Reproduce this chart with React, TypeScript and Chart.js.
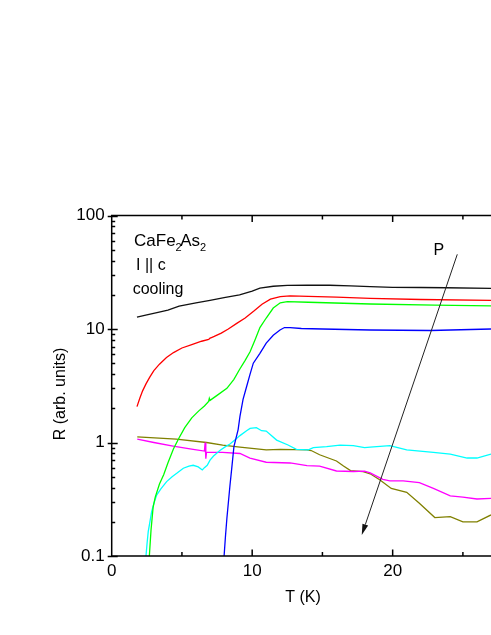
import React, { useEffect, useRef } from 'react';
import { Chart, registerables } from 'chart.js';

Chart.register(...registerables);

// ---- data (T in K, R in arb. units) ----
const blackT = [1.8, 2.5, 3.3, 4.0, 4.8, 6.0, 7.0, 8.0, 9.1, 10.0, 10.55, 11.5, 12.5, 13.9, 15.5, 17.0, 18.4, 20.0, 22.0, 23.8, 27.0];
const blackR = [12.7, 13.3, 14.0, 14.7, 15.9, 17.0, 17.9, 18.9, 20.0, 21.6, 22.9, 23.8, 24.2, 24.4, 24.3, 24.0, 23.6, 23.3, 23.2, 23.1, 22.8];

const redT = [1.8, 2.0, 2.2, 2.45, 2.7, 3.0, 3.4, 3.9, 4.4, 5.0, 5.7, 6.4, 6.9, 7.0, 7.1, 7.3, 7.8, 8.3, 8.9, 9.5, 10.1, 10.7, 11.3, 12.0, 12.7, 14.0, 16.0, 18.4, 22.0, 27.0];
const redR = [2.07, 2.45, 2.85, 3.3, 3.75, 4.3, 4.9, 5.6, 6.2, 6.8, 7.3, 7.8, 8.1, 8.3, 8.4, 8.6, 9.2, 10.0, 11.2, 12.5, 14.3, 16.5, 18.3, 19.3, 19.6, 19.4, 19.1, 18.6, 18.2, 17.9];

const greenT = [2.68, 2.8, 2.95, 3.1, 3.4, 3.7, 4.0, 4.4, 4.8, 5.2, 5.7, 6.2, 6.6, 6.9, 6.95, 7.0, 7.5, 8.2, 8.7, 9.1, 9.5, 9.85, 10.2, 10.55, 11.0, 11.5, 12.0, 12.5, 14.0, 18.4, 23.0, 27.0];
const greenR = [0.1, 0.17, 0.27, 0.33, 0.43, 0.52, 0.66, 0.88, 1.1, 1.35, 1.65, 1.9, 2.1, 2.3, 2.45, 2.35, 2.6, 3.0, 3.6, 4.4, 5.3, 6.3, 8.0, 10.3, 12.5, 15.3, 17.0, 17.4, 17.2, 16.6, 16.2, 16.0];

const blueT = [8.0, 8.1, 8.2, 8.42, 8.55, 8.7, 9.0, 9.13, 9.35, 9.6, 9.85, 10.08, 10.55, 11.0, 11.5, 11.98, 12.3, 12.7, 13.5, 15.0, 18.4, 22.7, 27.0];
const blueR = [0.1, 0.15, 0.215, 0.42, 0.6, 0.92, 1.3, 1.7, 2.4, 3.1, 4.0, 5.0, 6.1, 7.5, 8.8, 9.8, 10.3, 10.3, 10.1, 10.0, 9.8, 9.7, 10.0];

const cyanT = [2.44, 2.52, 2.6, 2.72, 2.84, 3.0, 3.2, 3.5, 3.91, 4.3, 4.63, 5.1, 5.5, 5.8, 6.16, 6.45, 6.6, 6.8, 7.0, 7.25, 7.7, 8.1, 8.42, 8.8, 9.13, 9.6, 9.85, 10.3, 10.67, 11.0, 11.74, 12.55, 13.15, 14.0, 14.35, 15.3, 16.25, 17.2, 18.0, 18.4, 19.8, 21.0, 22.9, 24.1, 25.3, 26.0, 27.0];
const cyanR = [0.1, 0.13, 0.164, 0.2, 0.245, 0.29, 0.344, 0.39, 0.452, 0.5, 0.535, 0.593, 0.62, 0.63, 0.61, 0.573, 0.6, 0.63, 0.7, 0.76, 0.85, 0.92, 0.97, 1.06, 1.15, 1.27, 1.33, 1.35, 1.27, 1.26, 1.05, 0.95, 0.87, 0.86, 0.9, 0.92, 0.95, 0.94, 0.9, 0.91, 0.94, 0.86, 0.82, 0.79, 0.73, 0.73, 0.79];

const magentaT = [1.82, 3.0, 4.37, 5.8, 6.6, 6.65, 6.7, 6.75, 7.0, 7.9, 9.13, 9.84, 11.0, 12.7, 13.9, 14.8, 16.0, 17.2, 18.0, 18.4, 19.3, 19.8, 20.75, 21.9, 22.9, 24.1, 25.0, 26.0, 27.0];
const magentaR = [1.07, 1.0, 0.93, 0.87, 0.84, 1.0, 0.72, 0.82, 0.82, 0.82, 0.8, 0.73, 0.67, 0.66, 0.625, 0.62, 0.561, 0.555, 0.56, 0.54, 0.474, 0.46, 0.46, 0.443, 0.394, 0.338, 0.33, 0.318, 0.322];

const oliveT = [1.82, 4.6, 6.75, 7.9, 9.13, 11.0, 12.0, 13.9, 14.2, 14.8, 16.0, 16.5, 17.0, 17.9, 18.4, 19.1, 19.9, 21.0, 21.9, 23.0, 24.1, 25.0, 26.0, 27.0];
const oliveR = [1.12, 1.07, 1.0, 0.95, 0.91, 0.86, 0.87, 0.86, 0.85, 0.78, 0.687, 0.62, 0.565, 0.555, 0.53, 0.468, 0.394, 0.364, 0.291, 0.218, 0.222, 0.2, 0.2, 0.23];

const xTickValues = [0, 10, 20];
const yTickValues = [0.1, 1, 10, 100];

// annotation anchors (data coords)
const arrowFrom = { x: 24.6, y: 45.5 };
const arrowTo = { x: 17.8, y: 0.153 };
const pLabel = { x: 22.9, y: 44.9, text: 'P' };
const sampleLabel = { x: 1.59, y: 53.9 };
const currentLabel = { x: 1.73, y: 33.1, text: 'I || c' };
const modeLabel = { x: 1.49, y: 20.3, text: 'cooling' };

const FONT = '"Liberation Sans", Arial, Helvetica, sans-serif';

const series = [
  { label: 'P1', t: blackT, r: blackR, color: '#111111' },
  { label: 'P2', t: redT, r: redR, color: '#ff0000' },
  { label: 'P3', t: greenT, r: greenR, color: '#00ff00' },
  { label: 'P4', t: blueT, r: blueR, color: '#0000ff' },
  { label: 'P5', t: cyanT, r: cyanR, color: '#00ffff' },
  { label: 'P6', t: magentaT, r: magentaR, color: '#ff00ff' },
  { label: 'P7', t: oliveT, r: oliveR, color: '#808000' },
];

const framePlugin = {
  id: 'framePlugin',
  afterDraw(chart: any) {
    const { ctx, chartArea: a, scales } = chart;
    const xs = scales.x;
    const ys = scales.y;
    ctx.save();
    ctx.strokeStyle = '#000';
    ctx.lineWidth = 1.5;
    ctx.beginPath();
    ctx.moveTo(a.right + 2, a.top);
    ctx.lineTo(a.left, a.top);
    ctx.lineTo(a.left, a.bottom);
    ctx.lineTo(a.right + 2, a.bottom);
    ctx.stroke();

    const seg = (x1: number, y1: number, x2: number, y2: number) => {
      ctx.beginPath();
      ctx.moveTo(x1, y1);
      ctx.lineTo(x2, y2);
      ctx.stroke();
    };
    // x ticks (inward, bottom and top)
    for (let v = 5; v <= xs.max; v += 5) {
      const px = xs.getPixelForValue(v);
      const len = v % 10 === 0 ? 6.5 : 4;
      seg(px, a.bottom, px, a.bottom - len);
      seg(px, a.top, px, a.top + len);
    }
    // y ticks
    for (let e = -1; e <= 2; e++) {
      for (let m = 1; m <= 9; m++) {
        const v = m * Math.pow(10, e);
        if (v < 0.1 - 1e-9 || v > 100 + 1e-9) continue;
        const py = Math.round(ys.getPixelForValue(v)) + 0.5;
        if (m === 1) seg(a.left - 4, py, a.left + 6, py);
        else seg(a.left, py, a.left + 3.5, py);
      }
    }

    // arrow
    const x1 = xs.getPixelForValue(arrowFrom.x);
    const y1 = ys.getPixelForValue(arrowFrom.y);
    const x2 = xs.getPixelForValue(arrowTo.x);
    const y2 = ys.getPixelForValue(arrowTo.y);
    ctx.strokeStyle = '#222';
    ctx.lineWidth = 1;
    const ang = Math.atan2(y2 - y1, x2 - x1);
    const headLen = 11;
    const headW = 3;
    const bx = x2 - headLen * Math.cos(ang);
    const by = y2 - headLen * Math.sin(ang);
    seg(x1, y1, bx, by);
    ctx.fillStyle = '#111';
    ctx.beginPath();
    ctx.moveTo(x2, y2);
    ctx.lineTo(bx + headW * Math.sin(ang), by - headW * Math.cos(ang));
    ctx.lineTo(bx - headW * Math.sin(ang), by + headW * Math.cos(ang));
    ctx.closePath();
    ctx.fill();

    // texts
    ctx.fillStyle = '#000';
    ctx.textBaseline = 'alphabetic';
    ctx.textAlign = 'left';
    ctx.font = `16px ${FONT}`;
    ctx.fillText(pLabel.text, xs.getPixelForValue(pLabel.x), ys.getPixelForValue(pLabel.y));
    ctx.fillText(currentLabel.text, xs.getPixelForValue(currentLabel.x), ys.getPixelForValue(currentLabel.y));
    ctx.fillText(modeLabel.text, xs.getPixelForValue(modeLabel.x), ys.getPixelForValue(modeLabel.y));

    // CaFe2As2 with subscripts
    let sx = xs.getPixelForValue(sampleLabel.x);
    const sb = ys.getPixelForValue(sampleLabel.y);
    const parts: Array<[string, boolean]> = [['CaFe', false], ['2', true], ['As', false], ['2', true]];
    for (const [txt, sub] of parts) {
      ctx.font = sub ? `11px ${FONT}` : `17px ${FONT}`;
      ctx.fillText(txt, sx, sub ? sb + 5 : sb);
      sx += ctx.measureText(txt).width + (sub ? -1.5 : 0);
    }

    // axis titles
    ctx.font = `16px ${FONT}`;
    ctx.textAlign = 'center';
    ctx.textBaseline = 'middle';
    ctx.fillText('T (K)', 303, 598);
    ctx.save();
    ctx.translate(61, 394);
    ctx.rotate(-Math.PI / 2);
    ctx.fillText('R (arb. units)', 0, 0);
    ctx.restore();

    ctx.restore();
  },
};

export default function App() {
  const ref = useRef<HTMLCanvasElement | null>(null);
  useEffect(() => {
    if (!ref.current) return;
    const chart = new Chart(ref.current, {
      type: 'line',
      data: {
        datasets: series.map((s) => ({
          label: s.label,
          data: s.t.map((x, i) => ({ x, y: s.r[i] })),
          borderColor: s.color,
          backgroundColor: s.color,
          borderWidth: 1.3,
          pointRadius: 0,
          tension: 0,
          fill: false,
        })),
      },
      options: {
        animation: false,
        responsive: false,
        devicePixelRatio: 1,
        layout: { padding: { top: 215.5, left: 0, right: 0, bottom: 0 } },
        plugins: { legend: { display: false }, tooltip: { enabled: false } },
        scales: {
          x: {
            type: 'linear',
            min: 0,
            max: 27,
            grid: { display: false, drawTicks: false },
            border: { display: false },
            afterBuildTicks: (scale: any) => {
              scale.ticks = xTickValues.map((v) => ({ value: v }));
            },
            afterFit: (scale: any) => {
              scale.height = 79;
            },
            ticks: {
              padding: 5,
              color: '#000',
              font: { family: FONT, size: 17 },
              callback: (v: any) => String(v),
            },
          },
          y: {
            type: 'logarithmic',
            min: 0.1,
            max: 100,
            grid: { display: false, drawTicks: false },
            border: { display: false },
            afterBuildTicks: (scale: any) => {
              scale.ticks = yTickValues.map((v) => ({ value: v }));
            },
            afterFit: (scale: any) => {
              scale.width = 111.7;
            },
            ticks: {
              padding: 7,
              color: '#000',
              font: { family: FONT, size: 17 },
              callback: (v: any) => String(v),
            },
          },
        },
      } as any,
      plugins: [framePlugin],
    });
    return () => chart.destroy();
  }, []);
  return (
    <div style={{ position: 'absolute', left: 0, top: 0, width: 491, height: 635, overflow: 'hidden', background: '#fff' }}>
      <canvas ref={ref} width={491} height={635} style={{ display: 'block' }} />
    </div>
  );
}
